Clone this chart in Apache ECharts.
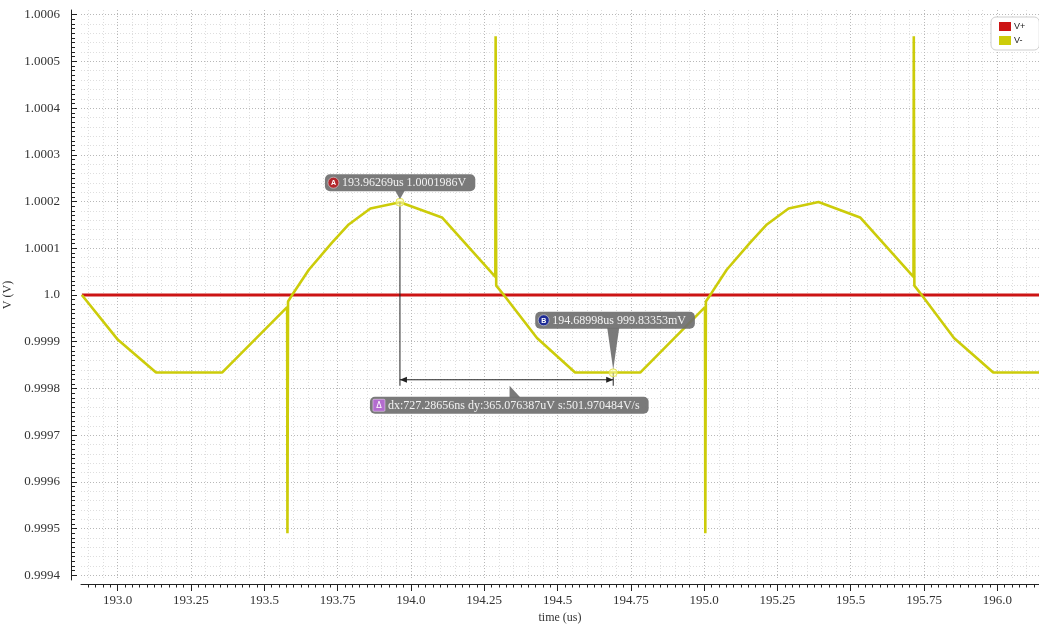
<!DOCTYPE html>
<html><head><meta charset="utf-8">
<script src="https://cdn.jsdelivr.net/npm/echarts@6/dist/echarts.min.js"></script>
<style>html,body{margin:0;padding:0;background:#fff}#c{width:1039px;height:624px}</style>
</head><body><div id="c"></div>
<script>
// ---- data ----
const xTicks = [193.0, 193.25, 193.5, 193.75, 194.0, 194.25, 194.5, 194.75, 195.0, 195.25, 195.5, 195.75, 196.0];
const xTickLabels = ['193.0', '193.25', '193.5', '193.75', '194.0', '194.25', '194.5', '194.75', '195.0', '195.25', '195.5', '195.75', '196.0'];
const yTicks = [0.9994, 0.9995, 0.9996, 0.9997, 0.9998, 0.9999, 1.0, 1.0001, 1.0002, 1.0003, 1.0004, 1.0005, 1.0006];
const yTickLabels = ['0.9994', '0.9995', '0.9996', '0.9997', '0.9998', '0.9999', '1.0', '1.0001', '1.0002', '1.0003', '1.0004', '1.0005', '1.0006'];
const seriesNames = ['V+', 'V-'];
const vPlusX = [192.878, 196.142];
const vPlusY = [1.0, 1.0];
const vMinusX = [192.878, 193.001, 193.131, 193.356, 193.578, 193.579, 193.581, 193.600, 193.652, 193.731, 193.788, 193.862, 193.963, 194.106, 194.288, 194.289, 194.291, 194.317, 194.430, 194.560, 194.782,
                 195.003, 195.004, 195.006, 195.026, 195.077, 195.157, 195.214, 195.288, 195.390, 195.532, 195.714, 195.715, 195.717, 195.742, 195.852, 195.986, 196.142];
const vMinusY = [1.000000, 0.999904, 0.999834, 0.999834, 0.999974, 0.999490, 0.999986, 1.000005, 1.000054, 1.000112, 1.000151, 1.000185, 1.0001986, 1.000166, 1.000039, 1.000554, 1.000020, 1.000000, 0.999908, 0.999834, 0.999834,
                 0.999974, 0.999490, 0.999986, 1.000005, 1.000054, 1.000112, 1.000151, 1.000185, 1.000199, 1.000166, 1.000039, 1.000554, 1.000020, 1.000000, 0.999908, 0.999834, 0.999834];
const markerNames = ['A', 'B'];
const markerX = [193.96269, 194.68998];
const markerY = [1.0001986, 0.99983353];
const markerLabels = ['193.96269us 1.0001986V', '194.68998us 999.83353mV'];
const deltaLabel = 'dx:727.28656ns dy:365.076387uV s:501.970484V/s';
const xName = 'time (us)';
const yName = 'V (V)';

// ---- chart ----
const XMIN = 192.875, XMAX = 196.142, YMIN = 0.99939, YMAX = 1.00061;
const serif = '"Liberation Serif", "DejaVu Serif", serif';
const axisColor = '#222';
const chart = echarts.init(document.getElementById('c'), null, {renderer: 'canvas'});

function lookup(ticks, labels, v, tol) {
  for (let i = 0; i < ticks.length; i++) if (Math.abs(ticks[i] - v) < tol) return labels[i];
  return '';
}

const option = {
  animation: false,
  backgroundColor: '#ffffff',
  grid: {left: 81, right: 0, top: 10, bottom: 44, containLabel: false, outerBoundsMode: 'none'},
  legend: {
    data: seriesNames, orient: 'vertical', left: 991, top: 17,
    icon: 'rect', itemWidth: 12, itemHeight: 9, itemGap: 5,
    padding: [5, 14, 5, 8], borderColor: '#cfcfcf', borderWidth: 1, borderRadius: 5,
    backgroundColor: '#fff', selectedMode: false,
    textStyle: {fontFamily: '"Liberation Sans", Arial, sans-serif', fontSize: 9, color: '#222', padding: [0, 0, 0, -2]}
  },
  xAxis: [
    {
      type: 'value', min: XMIN, max: XMAX, minInterval: 0.25, maxInterval: 0.25,
      position: 'bottom', offset: 4,
      name: xName, nameLocation: 'middle', nameGap: 24,
      nameTextStyle: {fontFamily: serif, fontSize: 12, color: '#333'},
      axisLine: {show: true, onZero: false, lineStyle: {color: axisColor, width: 1}},
      axisTick: {show: true, length: 7, customValues: xTicks, lineStyle: {color: axisColor}},
      minorTick: {show: true, splitNumber: 10, length: 3.5, lineStyle: {color: axisColor}},
      axisLabel: {customValues: xTicks, margin: 10, fontFamily: serif, fontSize: 13, color: '#333',
        formatter: v => lookup(xTicks, xTickLabels, v, 1e-6)},
      splitLine: {show: true, lineStyle: {color: '#b8b8b8', type: [1, 2], width: 1}}
    },
    {
      type: 'value', min: XMIN, max: XMAX, minInterval: 0.25, maxInterval: 0.25, position: 'top',
      axisLine: {show: false}, axisTick: {show: false}, axisLabel: {show: false}, splitLine: {show: false},
      minorTick: {show: false, splitNumber: 5},
      minorSplitLine: {show: true, lineStyle: {color: '#dedede', type: [1, 2], width: 1}}
    }
  ],
  yAxis: [
    {
      type: 'value', min: YMIN, max: YMAX, minInterval: 0.0001, maxInterval: 0.0001,
      position: 'left', offset: 10,
      name: yName, nameLocation: 'middle', nameGap: 50,
      nameTextStyle: {fontFamily: serif, fontSize: 12, color: '#333'},
      axisLine: {show: true, onZero: false, lineStyle: {color: axisColor, width: 1}},
      axisTick: {show: true, inside: true, length: 6, customValues: yTicks, lineStyle: {color: axisColor}},
      minorTick: {show: true, splitNumber: 10, length: 4, lineStyle: {color: axisColor}},
      axisLabel: {customValues: yTicks, margin: 11, fontFamily: serif, fontSize: 13, color: '#333',
        formatter: v => lookup(yTicks, yTickLabels, v, 1e-9)},
      splitLine: {show: true, lineStyle: {color: '#b8b8b8', type: [1, 2], width: 1}}
    },
    {
      type: 'value', min: YMIN, max: YMAX, minInterval: 0.0001, maxInterval: 0.0001, position: 'right',
      axisLine: {show: false}, axisTick: {show: false}, axisLabel: {show: false}, splitLine: {show: false},
      minorTick: {show: false, splitNumber: 5},
      minorSplitLine: {show: true, lineStyle: {color: '#dedede', type: [1, 2], width: 1}}
    }
  ],
  series: [
    {
      name: seriesNames[0], type: 'line', xAxisIndex: 0, yAxisIndex: 0,
      data: vPlusX.map((x, i) => [x, vPlusY[i]]),
      showSymbol: false, symbol: 'none', color: '#cc1414',
      lineStyle: {color: '#cc1414', width: 3}, z: 3
    },
    {
      name: seriesNames[1], type: 'line', xAxisIndex: 0, yAxisIndex: 0,
      data: vMinusX.map((x, i) => [x, vMinusY[i]]),
      showSymbol: false, symbol: 'none', color: '#cccc0a',
      lineStyle: {color: '#cccc0a', width: 2.6}, z: 4
    }
  ]
};
chart.setOption(option);

// ---- annotations anchored to data ----
const ctx = document.createElement('canvas').getContext('2d');
const labelFont = '12px "Liberation Serif"';
ctx.font = labelFont;
const tw = s => ctx.measureText(s).width;
const toPx = (x, y) => chart.convertToPixel({xAxisIndex: 0, yAxisIndex: 0}, [x, y]);
const pA = toPx(markerX[0], markerY[0]);
const pB = toPx(markerX[1], markerY[1]);
const boxFill = 'rgba(112,112,112,0.93)';
const textFill = '#f2f2f2';
const g = [];

function markerBox(p, left, top, label, letter, iconColor, pw) {
  const w = 17 + tw(label) + 9;
  g.push({type: 'polygon', shape: {points: [[p[0] - pw, top + 16], [p[0] + pw, top + 16], [p[0], p[1] - 3]]}, style: {fill: boxFill}, z: 100});
  g.push({type: 'rect', shape: {x: left, y: top, width: w, height: 17, r: 5}, style: {fill: boxFill}, z: 100});
  g.push({type: 'circle', shape: {cx: left + 8.5, cy: top + 8.5, r: 5.5}, style: {fill: iconColor, stroke: '#ddd', lineWidth: 0.6}, z: 101});
  g.push({type: 'text', x: left + 8.5, y: top + 8.8, style: {text: letter, fill: '#fff', font: 'bold 7px "Liberation Sans"', align: 'center', verticalAlign: 'middle'}, z: 102});
  g.push({type: 'text', x: left + 17, y: top + 9, style: {text: label, fill: textFill, font: labelFont, verticalAlign: 'middle'}, z: 102});
}

const ay = pB[1] + 7;
const lineSt = {stroke: '#222', lineWidth: 1};
// guide lines
g.push({type: 'line', shape: {x1: pA[0], y1: pA[1], x2: pA[0], y2: ay + 6}, style: lineSt, z: 90});
g.push({type: 'line', shape: {x1: pB[0], y1: pB[1], x2: pB[0], y2: ay + 6}, style: lineSt, z: 90});
g.push({type: 'line', shape: {x1: pA[0], y1: ay, x2: pB[0], y2: ay}, style: lineSt, z: 90});
g.push({type: 'polygon', shape: {points: [[pA[0], ay], [pA[0] + 7, ay - 3], [pA[0] + 7, ay + 3]]}, style: {fill: '#222'}, z: 90});
g.push({type: 'polygon', shape: {points: [[pB[0], ay], [pB[0] - 7, ay - 3], [pB[0] - 7, ay + 3]]}, style: {fill: '#222'}, z: 90});

// point markers
[pA, pB].forEach(p => g.push({type: 'circle', shape: {cx: p[0], cy: p[1], r: 4}, style: {fill: 'rgba(255,255,170,0.55)', stroke: '#e6e65a', lineWidth: 1}, z: 95}));

markerBox(pA, pA[0] - 75, pA[1] - 28, markerLabels[0], markerNames[0], '#b3262c', 5);
markerBox(pB, pB[0] - 78, pB[1] - 61, markerLabels[1], markerNames[1], '#1f2c96', 6);

// delta box
const dLeft = pA[0] - 30, dTop = ay + 17;
const dW = 18 + tw(deltaLabel) + 9;
const mid = (pA[0] + pB[0]) / 2;
g.push({type: 'polygon', shape: {points: [[mid + 3, ay + 6], [mid + 3, dTop + 1], [mid + 14, dTop + 1]]}, style: {fill: boxFill}, z: 100});
g.push({type: 'rect', shape: {x: dLeft, y: dTop, width: dW, height: 17, r: 5}, style: {fill: boxFill}, z: 100});
g.push({type: 'rect', shape: {x: dLeft + 3, y: dTop + 2.5, width: 12, height: 12, r: 1}, style: {fill: '#b36ccf', stroke: '#e8d0f0', lineWidth: 0.6}, z: 101});
g.push({type: 'text', x: dLeft + 9, y: dTop + 9, style: {text: '\u0394', fill: '#fff', font: '8px "DejaVu Sans"', align: 'center', verticalAlign: 'middle'}, z: 102});
g.push({type: 'text', x: dLeft + 18, y: dTop + 9, style: {text: deltaLabel, fill: textFill, font: labelFont, verticalAlign: 'middle'}, z: 102});

chart.setOption({graphic: {elements: g}});
</script>
</body></html>
